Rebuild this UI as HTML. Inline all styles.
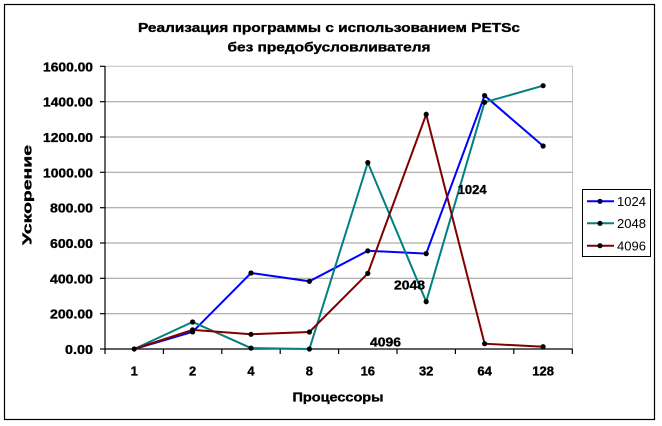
<!DOCTYPE html>
<html><head><meta charset="utf-8"><style>
html,body{margin:0;padding:0;background:#fff;}
svg{display:block;}
text{font-family:"Liberation Sans",Arial,sans-serif;}
.b{font-weight:bold;font-size:13px;fill:#000;stroke:#000;stroke-width:0.35px;}
</style></head><body>
<svg width="662" height="426" viewBox="0 0 662 426" xmlns="http://www.w3.org/2000/svg">
<rect x="0" y="0" width="662" height="426" fill="#fff"/>
<rect x="4.5" y="4.5" width="650" height="415" fill="none" stroke="#000" stroke-width="1.2"/>
<!-- title -->
<text class="b" x="329" y="32" text-anchor="middle" textLength="382" lengthAdjust="spacingAndGlyphs">Реализация программы с использованием PETSc</text>
<text class="b" x="329" y="51.5" text-anchor="middle" textLength="203" lengthAdjust="spacingAndGlyphs">без предобусловливателя</text>
<!-- gridlines -->
<g stroke="#9a9a9a" stroke-width="1">
<line x1="105" y1="313.7" x2="572" y2="313.7"/>
<line x1="105" y1="278.3" x2="572" y2="278.3"/>
<line x1="105" y1="243" x2="572" y2="243"/>
<line x1="105" y1="207.7" x2="572" y2="207.7"/>
<line x1="105" y1="172.3" x2="572" y2="172.3"/>
<line x1="105" y1="137" x2="572" y2="137"/>
<line x1="105" y1="101.7" x2="572" y2="101.7"/>
</g>
<line x1="105" y1="66.3" x2="572.5" y2="66.3" stroke="#c0c0c0" stroke-width="1"/>
<line x1="572.5" y1="66.3" x2="572.5" y2="349" stroke="#c0c0c0" stroke-width="1"/>
<!-- axes -->
<g stroke="#000" stroke-width="1.2">
<line x1="105" y1="66" x2="105" y2="349.5"/>
<line x1="104.5" y1="349" x2="572.5" y2="349"/>
<line x1="100" y1="349" x2="105" y2="349"/>
<line x1="100" y1="313.7" x2="105" y2="313.7"/>
<line x1="100" y1="278.3" x2="105" y2="278.3"/>
<line x1="100" y1="243" x2="105" y2="243"/>
<line x1="100" y1="207.7" x2="105" y2="207.7"/>
<line x1="100" y1="172.3" x2="105" y2="172.3"/>
<line x1="100" y1="137" x2="105" y2="137"/>
<line x1="100" y1="101.7" x2="105" y2="101.7"/>
<line x1="100" y1="66.3" x2="105" y2="66.3"/>
<line x1="105" y1="349" x2="105" y2="354"/>
<line x1="163.4" y1="349" x2="163.4" y2="354"/>
<line x1="221.8" y1="349" x2="221.8" y2="354"/>
<line x1="280.2" y1="349" x2="280.2" y2="354"/>
<line x1="338.6" y1="349" x2="338.6" y2="354"/>
<line x1="397" y1="349" x2="397" y2="354"/>
<line x1="455.4" y1="349" x2="455.4" y2="354"/>
<line x1="513.8" y1="349" x2="513.8" y2="354"/>
<line x1="572.3" y1="349" x2="572.3" y2="354"/>
</g>
<!-- y labels -->
<text class="b" x="93" y="354" text-anchor="end" textLength="28" lengthAdjust="spacingAndGlyphs">0.00</text>
<text class="b" x="93" y="318.7" text-anchor="end" textLength="43" lengthAdjust="spacingAndGlyphs">200.00</text>
<text class="b" x="93" y="283.3" text-anchor="end" textLength="43" lengthAdjust="spacingAndGlyphs">400.00</text>
<text class="b" x="93" y="248" text-anchor="end" textLength="43" lengthAdjust="spacingAndGlyphs">600.00</text>
<text class="b" x="93" y="212.7" text-anchor="end" textLength="43" lengthAdjust="spacingAndGlyphs">800.00</text>
<text class="b" x="93" y="177.3" text-anchor="end" textLength="50" lengthAdjust="spacingAndGlyphs">1000.00</text>
<text class="b" x="93" y="142" text-anchor="end" textLength="50" lengthAdjust="spacingAndGlyphs">1200.00</text>
<text class="b" x="93" y="106.7" text-anchor="end" textLength="50" lengthAdjust="spacingAndGlyphs">1400.00</text>
<text class="b" x="93" y="71.3" text-anchor="end" textLength="50" lengthAdjust="spacingAndGlyphs">1600.00</text>
<!-- x labels -->
<text class="b" x="134.2" y="375.5" text-anchor="middle">1</text>
<text class="b" x="192.6" y="375.5" text-anchor="middle">2</text>
<text class="b" x="251" y="375.5" text-anchor="middle">4</text>
<text class="b" x="309.4" y="375.5" text-anchor="middle">8</text>
<text class="b" x="367.8" y="375.5" text-anchor="middle">16</text>
<text class="b" x="426.2" y="375.5" text-anchor="middle">32</text>
<text class="b" x="484.6" y="375.5" text-anchor="middle">64</text>
<text class="b" x="543.1" y="375.5" text-anchor="middle">128</text>
<text class="b" x="338" y="401.5" text-anchor="middle" textLength="91" lengthAdjust="spacingAndGlyphs">Процессоры</text>
<text class="b" transform="translate(31.5,195) rotate(-90)" x="0" y="0" text-anchor="middle" textLength="100" lengthAdjust="spacingAndGlyphs">Ускорение</text>
<!-- series -->
<polyline fill="none" stroke="#0000ff" stroke-width="2" points="134.2,349 192.6,331.9 251,273 309.4,281.3 367.8,250.8 426.2,253.6 484.6,95.6 543.1,146"/>
<polyline fill="none" stroke="#008080" stroke-width="2" points="134.2,349 192.6,322 251,348.1 309.4,349 367.8,162.6 426.2,301.6 484.6,102.3 543.1,85.7"/>
<polyline fill="none" stroke="#800000" stroke-width="2" points="134.2,349 192.6,329.9 251,334.3 309.4,332 367.8,273.4 426.2,114.4 484.6,343.7 543.1,346.7"/>
<g fill="#000">
<circle cx="134.2" cy="349" r="2.6"/><circle cx="192.6" cy="331.9" r="2.6"/><circle cx="251" cy="273" r="2.6"/><circle cx="309.4" cy="281.3" r="2.6"/><circle cx="367.8" cy="250.8" r="2.6"/><circle cx="426.2" cy="253.6" r="2.6"/><circle cx="484.6" cy="95.6" r="2.6"/><circle cx="543.1" cy="146" r="2.6"/>
<circle cx="192.6" cy="322" r="2.6"/><circle cx="251" cy="348.1" r="2.6"/><circle cx="309.4" cy="349" r="2.6"/><circle cx="367.8" cy="162.6" r="2.6"/><circle cx="426.2" cy="301.6" r="2.6"/><circle cx="484.6" cy="102.3" r="2.6"/><circle cx="543.1" cy="85.7" r="2.6"/>
<circle cx="192.6" cy="329.9" r="2.6"/><circle cx="251" cy="334.3" r="2.6"/><circle cx="309.4" cy="332" r="2.6"/><circle cx="367.8" cy="273.4" r="2.6"/><circle cx="426.2" cy="114.4" r="2.6"/><circle cx="484.6" cy="343.7" r="2.6"/><circle cx="543.1" cy="346.7" r="2.6"/>
</g>
<!-- data labels -->
<text class="b" x="457.7" y="194" textLength="29" lengthAdjust="spacingAndGlyphs">1024</text>
<text class="b" x="394" y="289.7" textLength="31" lengthAdjust="spacingAndGlyphs">2048</text>
<text class="b" x="370" y="346.5" textLength="31" lengthAdjust="spacingAndGlyphs">4096</text>
<!-- legend -->
<rect x="582.5" y="189.5" width="68" height="67" fill="#fff" stroke="#000" stroke-width="1"/>
<line x1="587" y1="201.3" x2="614" y2="201.3" stroke="#0000ff" stroke-width="2"/>
<line x1="587" y1="223.3" x2="614" y2="223.3" stroke="#008080" stroke-width="2"/>
<line x1="587" y1="245.7" x2="614" y2="245.7" stroke="#800000" stroke-width="2"/>
<circle cx="600" cy="201.3" r="2.6" fill="#000040"/>
<circle cx="600" cy="223.3" r="2.6" fill="#000"/>
<circle cx="600" cy="245.7" r="2.6" fill="#000"/>
<text x="617" y="206" font-size="13" fill="#000" textLength="29" lengthAdjust="spacingAndGlyphs">1024</text>
<text x="617" y="228" font-size="13" fill="#000" textLength="29" lengthAdjust="spacingAndGlyphs">2048</text>
<text x="617" y="250.4" font-size="13" fill="#000" textLength="29" lengthAdjust="spacingAndGlyphs">4096</text>
</svg>
</body></html>
